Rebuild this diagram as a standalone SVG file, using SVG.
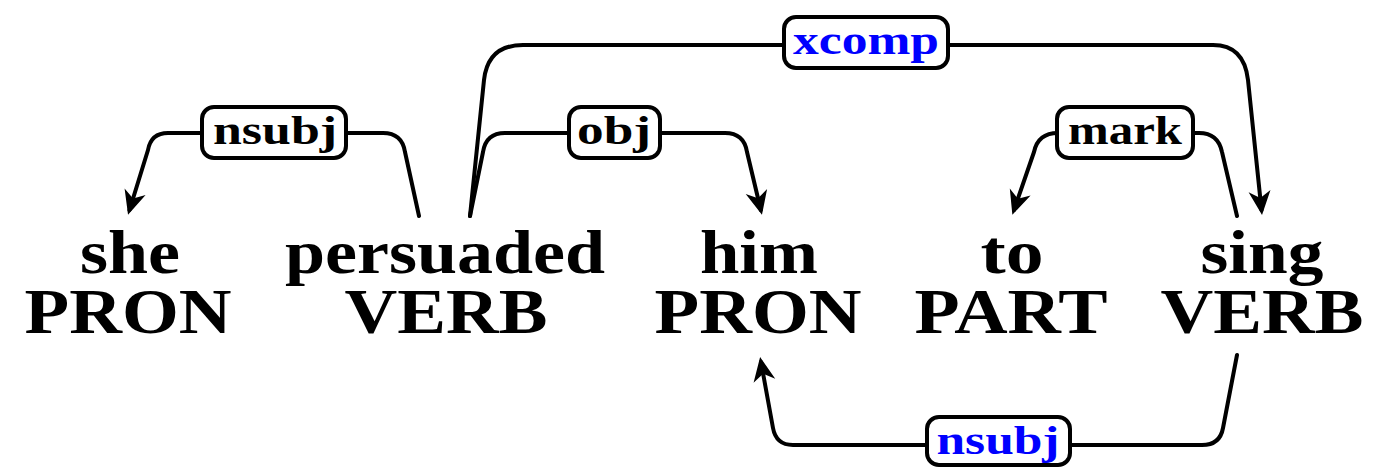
<svg xmlns="http://www.w3.org/2000/svg" width="1395" height="468" viewBox="0 0 1395 468">
<style>
.w{font-family:"Liberation Serif","DejaVu Serif",serif;font-weight:bold;font-size:62px;fill:#000;text-anchor:middle}
.p{font-family:"Liberation Serif","DejaVu Serif",serif;font-weight:bold;font-size:64px;fill:#000;text-anchor:middle}
.e{fill:none;stroke:#000;stroke-width:4;stroke-linecap:round;stroke-linejoin:round}
.box{fill:#fff;stroke:#000;stroke-width:4}
.lb{font-family:"Liberation Serif","DejaVu Serif",serif;font-weight:bold;font-size:40px;fill:#000;text-anchor:middle}
.blue{fill:#0000ff}
</style>
<defs>
<marker id="arr" markerUnits="userSpaceOnUse" markerWidth="30" markerHeight="30" refX="19" refY="0" orient="auto" overflow="visible">
<path d="M24,0 L0,-11 L7,0 L0,11 Z" fill="#000"/>
</marker>
</defs>
<g id="connectors">
<path class="e" d="M419,216 L405,152 Q402,133 383,133 L168,133 Q151,133 148,150 L129.5,210" marker-end="url(#arr)"/>
<path class="e" d="M470,216 L483,152 Q486,133 505,133 L725,133 Q744,133 747,152 L760.8,210" marker-end="url(#arr)"/>
<path class="e" d="M470,216 L484,80 Q488,45 523,45 L1213,45 Q1244,45 1248,80 L1261.5,210" marker-end="url(#arr)"/>
<path class="e" d="M1237,216 L1222,152 Q1218,133 1199,133 L1058,133 Q1038,133 1034,152 L1014,210" marker-end="url(#arr)"/>
<path class="e" d="M1237,355 L1223,428 Q1220,445 1202,445 L793,445 Q776,445 773,428 L761,362" marker-end="url(#arr)"/>
</g>
<g id="label-nsubj1"><rect class="box" x="202" y="107" width="144" height="51" rx="12"/><text class="lb" x="275" y="144" textLength="124" lengthAdjust="spacingAndGlyphs">nsubj</text></g>
<g id="label-obj"><rect class="box" x="569" y="107" width="91" height="51" rx="12"/><text class="lb" x="614" y="144" textLength="74" lengthAdjust="spacingAndGlyphs">obj</text></g>
<g id="label-xcomp"><rect class="box" x="784" y="17" width="164" height="51" rx="12"/><text class="lb blue" x="866" y="54" textLength="146" lengthAdjust="spacingAndGlyphs">xcomp</text></g>
<g id="label-mark"><rect class="box" x="1057" y="107" width="136" height="51" rx="12"/><text class="lb" x="1125" y="144" textLength="114" lengthAdjust="spacingAndGlyphs">mark</text></g>
<g id="label-nsubj2"><rect class="box" x="927" y="417" width="143" height="48" rx="12"/><text class="lb blue" x="998" y="454" textLength="123" lengthAdjust="spacingAndGlyphs">nsubj</text></g>
<g id="node-she"><text class="w" x="130" y="273" textLength="100" lengthAdjust="spacingAndGlyphs">she</text><text class="p" x="128" y="333" textLength="207" lengthAdjust="spacingAndGlyphs">PRON</text></g>
<g id="node-persuaded"><text class="w" x="445" y="273" textLength="320" lengthAdjust="spacingAndGlyphs">persuaded</text><text class="p" x="446" y="333" textLength="203" lengthAdjust="spacingAndGlyphs">VERB</text></g>
<g id="node-him"><text class="w" x="759" y="273" textLength="118" lengthAdjust="spacingAndGlyphs">him</text><text class="p" x="758" y="333" textLength="207" lengthAdjust="spacingAndGlyphs">PRON</text></g>
<g id="node-to"><text class="w" x="1012" y="273" textLength="63" lengthAdjust="spacingAndGlyphs">to</text><text class="p" x="1011" y="333" textLength="193" lengthAdjust="spacingAndGlyphs">PART</text></g>
<g id="node-sing"><text class="w" x="1262" y="273" textLength="123" lengthAdjust="spacingAndGlyphs">sing</text><text class="p" x="1262" y="333" textLength="203" lengthAdjust="spacingAndGlyphs">VERB</text></g>
</svg>
